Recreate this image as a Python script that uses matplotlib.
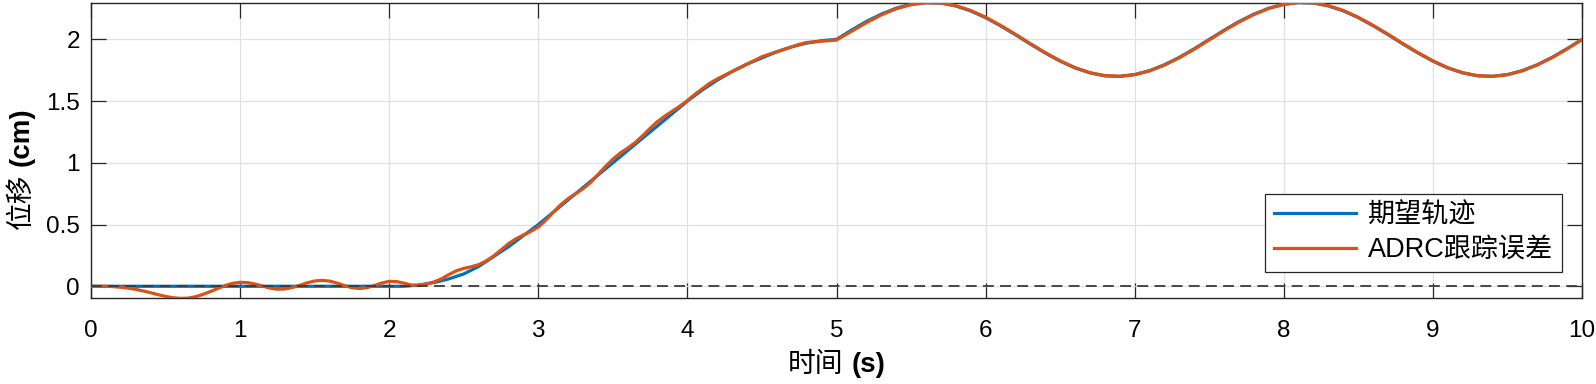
import matplotlib
matplotlib.use("Agg")
import matplotlib.pyplot as plt
import numpy as np

plt.rcParams['font.family'] = ['Liberation Sans', 'Noto Sans CJK SC', 'DejaVu Sans']

# ---- data ----
t_ref = [0.0, 0.5, 1.0, 1.5, 2.0, 2.1, 2.2, 2.3, 2.4, 2.5, 2.6, 2.7, 2.8, 2.9,
         3.0, 3.1, 3.2, 3.3, 3.4, 3.5, 3.6, 3.7, 3.8, 3.9,
         4.0, 4.1, 4.2, 4.3, 4.4, 4.5, 4.6, 4.7, 4.8, 4.9,
         5.0, 5.1, 5.2, 5.3, 5.4, 5.5, 5.6, 5.7, 5.8, 5.9,
         6.0, 6.1, 6.2, 6.3, 6.4, 6.5, 6.6, 6.7, 6.8, 6.9,
         7.0, 7.1, 7.2, 7.3, 7.4, 7.5, 7.6, 7.7, 7.8, 7.9,
         8.0, 8.1, 8.2, 8.3, 8.4, 8.5, 8.6, 8.7, 8.8, 8.9,
         9.0, 9.1, 9.2, 9.3, 9.4, 9.5, 9.6, 9.7, 9.8, 9.9, 10.0]
y_ref = [0.0, 0.0, 0.0, 0.0, 0.0, 0.0, 0.01, 0.03, 0.06, 0.10, 0.16, 0.24, 0.32, 0.41,
         0.50, 0.60, 0.70, 0.80, 0.90, 1.00, 1.10, 1.20, 1.30, 1.40,
         1.50, 1.59, 1.67, 1.74, 1.80, 1.85, 1.90, 1.94, 1.97, 1.99,
         2.000, 2.075, 2.145, 2.205, 2.253, 2.285, 2.299, 2.295, 2.271, 2.231,
         2.176, 2.110, 2.038, 1.962, 1.890, 1.824, 1.769, 1.729, 1.705, 1.701,
         1.715, 1.747, 1.795, 1.855, 1.925, 2.000, 2.075, 2.145, 2.205, 2.253,
         2.285, 2.299, 2.295, 2.271, 2.231, 2.176, 2.110, 2.038, 1.962, 1.890,
         1.824, 1.769, 1.729, 1.705, 1.701, 1.715, 1.747, 1.795, 1.855, 1.925, 2.000]

t_adrc = [0.00, 0.05, 0.10, 0.15, 0.20, 0.25, 0.30, 0.35, 0.40, 0.45,
          0.50, 0.55, 0.60, 0.65, 0.70, 0.75, 0.80, 0.85, 0.90, 0.95,
          1.00, 1.05, 1.10, 1.15, 1.20, 1.25, 1.30, 1.35, 1.40, 1.45,
          1.50, 1.55, 1.60, 1.65, 1.70, 1.75, 1.80, 1.85, 1.90, 1.95,
          2.00, 2.05, 2.10, 2.15, 2.20, 2.25, 2.30, 2.35, 2.40, 2.45,
          2.50, 2.55, 2.60, 2.65, 2.70, 2.75, 2.80, 2.85, 2.90, 2.95,
          3.00, 3.05, 3.10, 3.15, 3.20, 3.25, 3.30, 3.35, 3.40, 3.45,
          3.50, 3.55, 3.60, 3.65, 3.70, 3.75, 3.80, 3.85, 3.90, 3.95,
          4.00, 4.05, 4.10, 4.15, 4.20, 4.25, 4.30, 4.35, 4.40, 4.45,
          4.50, 4.55, 4.60, 4.65, 4.70, 4.75, 4.80, 4.85, 4.90, 4.95,
          5.0, 5.1, 5.2, 5.3, 5.4, 5.5, 5.6, 5.7, 5.8, 5.9,
          6.0, 6.1, 6.2, 6.3, 6.4, 6.5, 6.6, 6.7, 6.8, 6.9,
          7.0, 7.1, 7.2, 7.3, 7.4, 7.5, 7.6, 7.7, 7.8, 7.9,
          8.0, 8.1, 8.2, 8.3, 8.4, 8.5, 8.6, 8.7, 8.8, 8.9,
          9.0, 9.1, 9.2, 9.3, 9.4, 9.5, 9.6, 9.7, 9.8, 9.9, 10.0]
y_adrc = [0.000, 0.000, 0.000, -0.003, -0.008, -0.015, -0.025, -0.038, -0.052, -0.068,
          -0.082, -0.093, -0.098, -0.096, -0.085, -0.066, -0.043, -0.018, 0.006, 0.024,
          0.032, 0.030, 0.018, 0.002, -0.015, -0.024, -0.022, -0.010, 0.008, 0.028,
          0.043, 0.048, 0.042, 0.026, 0.006, -0.012, -0.018, -0.012, 0.006, 0.026,
          0.040, 0.038, 0.025, 0.010, 0.008, 0.018, 0.035, 0.060, 0.095, 0.125,
          0.145, 0.158, 0.175, 0.205, 0.245, 0.295, 0.345, 0.385, 0.415, 0.445,
          0.480, 0.535, 0.600, 0.660, 0.710, 0.750, 0.790, 0.840, 0.905, 0.970,
          1.030, 1.080, 1.120, 1.165, 1.220, 1.280, 1.335, 1.380, 1.420, 1.460,
          1.505, 1.555, 1.600, 1.645, 1.680, 1.710, 1.740, 1.770, 1.800, 1.830,
          1.860, 1.880, 1.900, 1.920, 1.940, 1.960, 1.975, 1.980, 1.985, 1.990,
          1.995, 2.065, 2.135, 2.198, 2.248, 2.281, 2.297, 2.295, 2.273, 2.234,
          2.180, 2.114, 2.042, 1.966, 1.893, 1.827, 1.771, 1.730, 1.706, 1.701,
          1.714, 1.745, 1.792, 1.852, 1.921, 1.996, 2.071, 2.141, 2.202, 2.251,
          2.284, 2.299, 2.296, 2.273, 2.234, 2.179, 2.113, 2.041, 1.965, 1.892,
          1.826, 1.770, 1.730, 1.706, 1.701, 1.714, 1.746, 1.793, 1.853, 1.923, 1.998]

x_ticks = [0, 1, 2, 3, 4, 5, 6, 7, 8, 9, 10]
y_ticks = [0, 0.5, 1, 1.5, 2]
y_tick_labels = ['0', '0.5', '1', '1.5', '2']
labels = ['期望轨迹', 'ADRC跟踪误差']
xlabel_cjk, xlabel_unit = '时间', '(s)'
ylabel_cjk, ylabel_unit = '位移', '(cm)'

# ---- figure ----
W, H = 1596, 384
fig = plt.figure(figsize=(W / 100, H / 100), dpi=100)
ax = fig.add_axes([91 / W, 86 / H, 1491 / W, 295 / H])

ax.plot(t_ref, y_ref, color='#0072BD', lw=2.3, label=labels[0], zorder=3)
ax.plot(t_adrc, y_adrc, color='#D95319', lw=2.3, label=labels[1], zorder=4)
ax.axhline(0, color='#3a3a3a', lw=1.3, linestyle=(0, (6, 3.5)), zorder=5)

ax.set_xlim(0, 10)
ax.set_ylim(-0.095, 2.295)
ax.set_xticks(x_ticks)
ax.set_xticklabels([str(v) for v in x_ticks])
ax.set_yticks(y_ticks)
ax.set_yticklabels(y_tick_labels)

ax.grid(True, color='#e0e0e0', lw=0.9)
ax.set_axisbelow(True)
for s in ax.spines.values():
    s.set_color('#262626')
    s.set_linewidth(1.0)
ax.tick_params(direction='in', length=10.5, width=0.9, color='#262626',
               top=True, right=True, labelsize=17.5, labelcolor='black')
ax.tick_params(axis='x', pad=15.5)
ax.tick_params(axis='y', pad=8)

leg = ax.legend(loc='lower right', bbox_to_anchor=(0.9866, 0.088), borderaxespad=0,
                fontsize=19.5, handlelength=3.0, handletextpad=0.45, labelspacing=0.3,
                borderpad=0.33, fancybox=False, framealpha=1, edgecolor='#262626')
leg.get_frame().set_linewidth(0.9)

# ---- composite axis labels: CJK regular + bold latin unit ----
LS = 20
r = fig.canvas.get_renderer()
cjk_props = dict(fontsize=LS, family=['Noto Sans CJK SC', 'DejaVu Sans'])
unit_props = dict(fontsize=LS, family=['Liberation Sans'], fontweight='bold')
gap = 0.28 * LS * 100 / 72  # px

# x label
xc = (91 + 1582) / 2
base_y = H - 372
tx1 = fig.text(0, 0, xlabel_cjk, ha='left', va='baseline', **cjk_props)
tx2 = fig.text(0, 0, xlabel_unit, ha='left', va='baseline', **unit_props)
w1 = tx1.get_window_extent(r).width
w2 = tx2.get_window_extent(r).width
x0 = xc - (w1 + gap + w2) / 2
tx1.set_position((x0 / W, base_y / H))
tx2.set_position(((x0 + w1 + gap) / W, base_y / H))

# y label (rotated, reading upward)
yc = H - 168
base_x = 29
ty1 = fig.text(0, 0, ylabel_cjk, rotation=90, rotation_mode='anchor',
               ha='left', va='baseline', **cjk_props)
ty2 = fig.text(0, 0, ylabel_unit, rotation=90, rotation_mode='anchor',
               ha='left', va='baseline', **unit_props)
h1 = ty1.get_window_extent(r).height
h2 = ty2.get_window_extent(r).height
y0 = yc - (h1 + gap + h2) / 2
ty1.set_position((base_x / W, y0 / H))
ty2.set_position((base_x / W, (y0 + h1 + gap) / H))

fig.savefig('out.png', dpi=100)
